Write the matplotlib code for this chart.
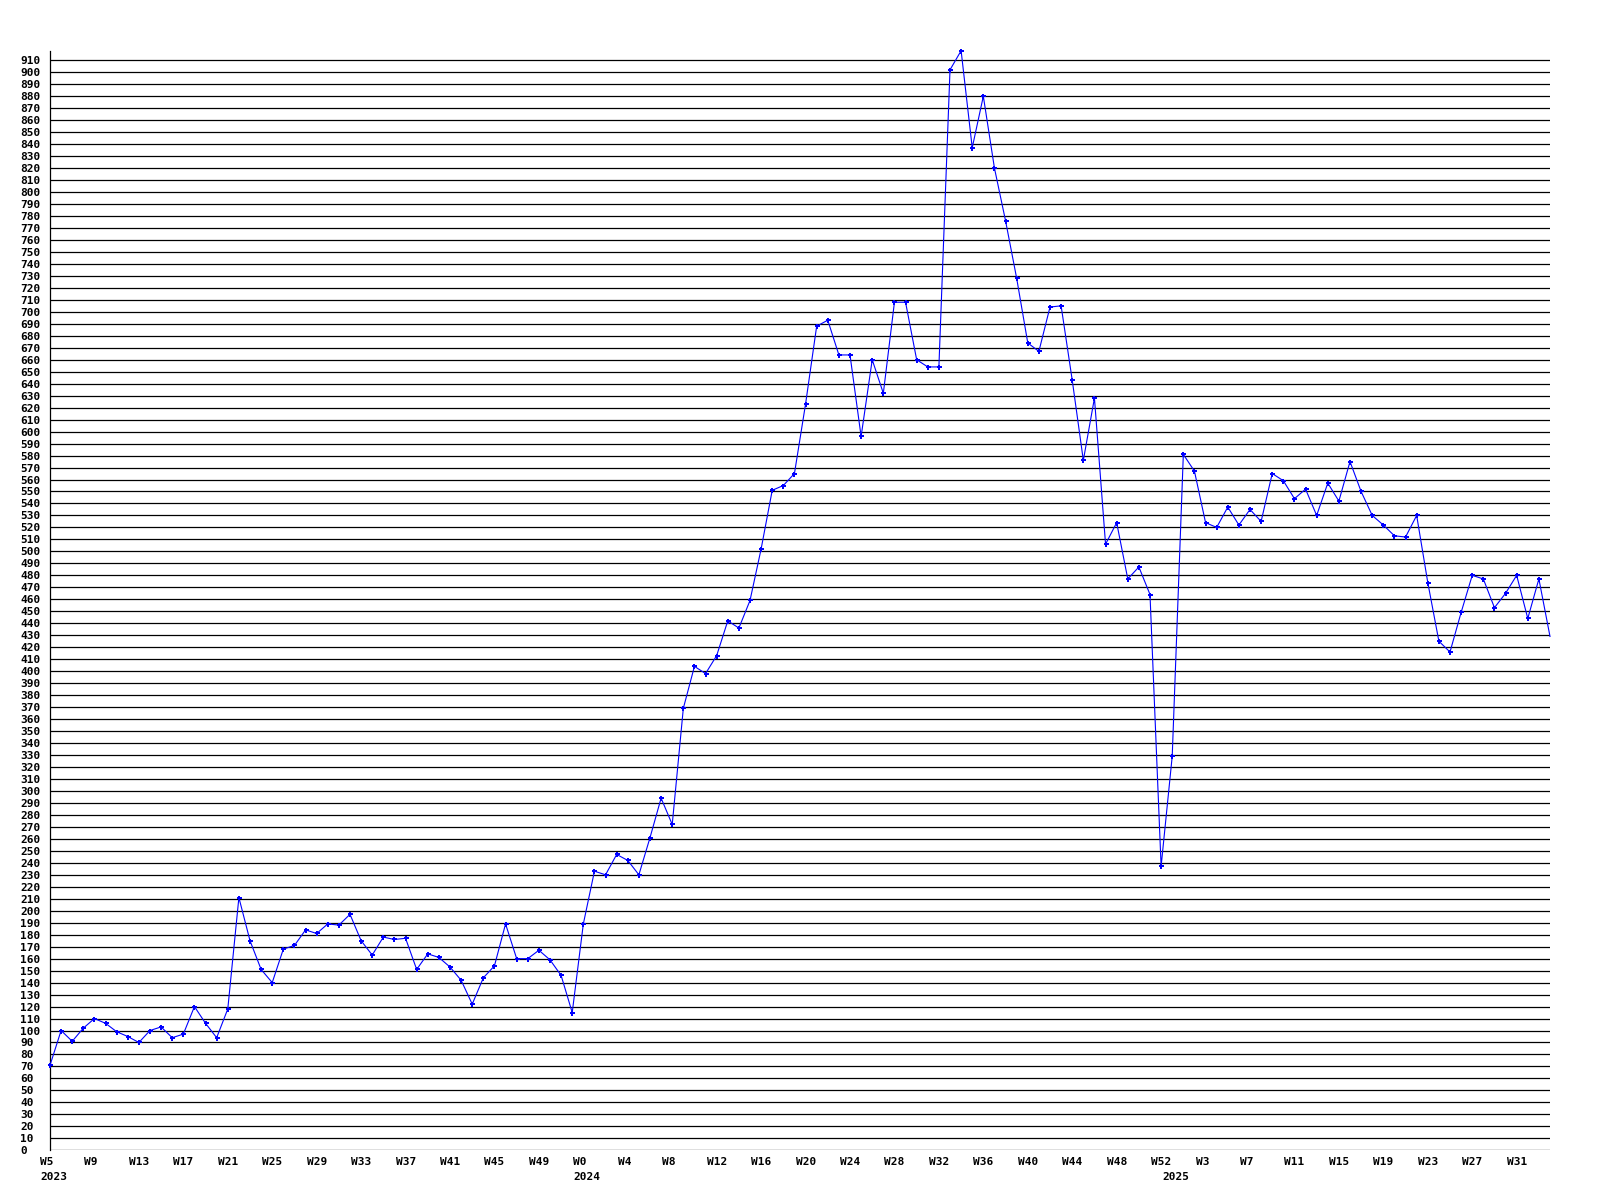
import matplotlib
matplotlib.use("Agg")
import matplotlib.pyplot as plt
from matplotlib.transforms import ScaledTranslation

# ---------------- Data ----------------
# one value per week, 2023 W5 .. 2025 W34
counts = [
    71, 100, 91, 102, 110, 106, 99, 95, 90, 100,
    103, 94, 97, 120, 106, 94, 118, 211, 175, 151,
    140, 168, 171, 184, 181, 189, 188, 197, 175, 163,
    178, 176, 177, 151, 164, 161, 153, 142, 122, 144,
    154, 189, 160, 160, 167, 159, 146, 115, 189, 233,
    230, 247, 242, 230, 261, 294, 272, 369, 404, 398,
    413, 442, 436, 459, 502, 551, 555, 565, 623, 688,
    693, 664, 664, 596, 660, 632, 708, 708, 660, 654,
    654, 902, 918, 837, 880, 820, 776, 728, 674, 667,
    704, 705, 643, 576, 628, 506, 524, 477, 487, 464,
    237, 329, 581, 567, 524, 520, 537, 522, 535, 525,
    565, 559, 544, 552, 530, 557, 542, 575, 550, 530,
    522, 513, 512, 530, 474, 425, 416, 449, 480, 477,
    453, 465, 480, 444, 477, 429,
]

week_tick_pos = list(range(0, 133, 4))
week_tick_labels = [
    "W5", "W9", "W13", "W17", "W21", "W25", "W29", "W33", "W37", "W41",
    "W45", "W49", "W0", "W4", "W8", "W12", "W16", "W20", "W24", "W28",
    "W32", "W36", "W40", "W44", "W48", "W52", "W3", "W7", "W11", "W15",
    "W19", "W23", "W27", "W31",
]
year_pos = [0, 48, 101]
year_labels = ["2023", "2024", "2025"]

y_ticks = list(range(0, 911, 10))

# ---------------- Plot ----------------
DPI = 100
fig = plt.figure(figsize=(16, 12), dpi=DPI)
ax = fig.add_axes([50 / 1600, 1 - 1150.3 / 1200, 1500 / 1600, 1099.6 / 1200])

x = list(range(len(counts)))
# last week sits on the right edge, drawn without a marker
ax.plot(x, counts, color="#0000ff", lw=0.8, marker="P", markersize=3.6,
        markeredgewidth=0, markevery=list(range(len(counts) - 1)),
        clip_on=False, zorder=3)

ax.set_xlim(0, len(counts) - 1)
ax.set_ylim(0, max(counts))

font = dict(family="DejaVu Sans Mono", weight="bold", size=8)

ax.set_yticks(y_ticks)
ax.set_yticklabels([str(v) for v in y_ticks], **font)
ax.tick_params(axis="y", length=0, pad=21.6)
for lbl in ax.get_yticklabels():
    lbl.set_horizontalalignment("left")

# year labels sit on minor ticks, some share a spot with week ticks
ax.xaxis.remove_overlapping_locs = False
ax.set_xticks(week_tick_pos)
ax.set_xticklabels(week_tick_labels, **font)
ax.set_xticks(year_pos, minor=True)
ax.set_xticklabels(year_labels, minor=True, **font)
ax.tick_params(axis="x", which="major", length=0, pad=4.5)
ax.tick_params(axis="x", which="minor", length=0, pad=15.5)
shift = ScaledTranslation(-10 / DPI, 0, fig.dpi_scale_trans)
for lbl in ax.get_xticklabels() + ax.get_xticklabels(minor=True):
    lbl.set_horizontalalignment("left")
    lbl.set_transform(lbl.get_transform() + shift)

ax.yaxis.grid(True, color="black", lw=0.9)
ax.set_axisbelow(True)
for side in ["top", "right", "bottom"]:
    ax.spines[side].set_visible(False)
ax.spines["left"].set_color("black")
ax.spines["left"].set_linewidth(0.9)

fig.savefig("out.png", dpi=DPI)
